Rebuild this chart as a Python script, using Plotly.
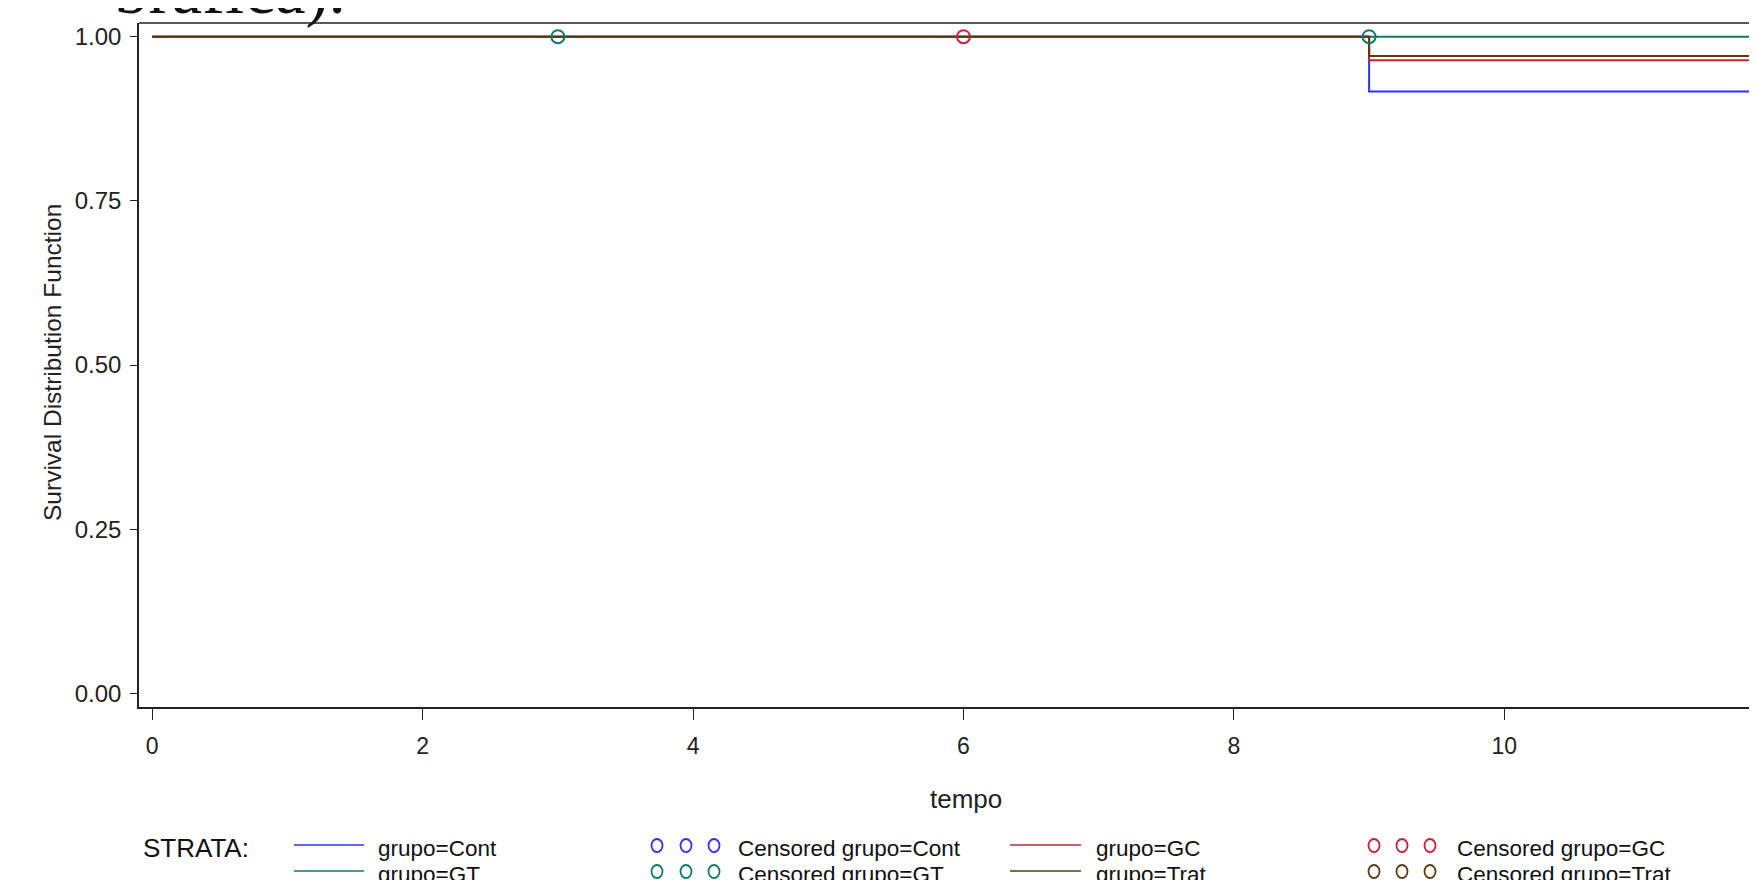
import plotly.graph_objects as go

# ---------------- data ----------------
strata = ["Cont", "GT", "GC", "Trat"]
colors = {"Cont": "#3030f5", "GT": "#0f7a6c", "GC": "#c8203a", "Trat": "#5a3b10"}

# Kaplan-Meier step functions (time, survival)
km_times = {
    "Cont": [0, 9, 12],
    "GT":   [0, 9, 12],
    "GC":   [0, 9, 12],
    "Trat": [0, 9, 12],
}
km_surv = {
    "Cont": [1.0, 0.9167, 0.9167],
    "GT":   [1.0, 1.0, 1.0],
    "GC":   [1.0, 0.9643, 0.9643],
    "Trat": [1.0, 0.9706, 0.9706],
}
# censored observations
cens_times = {"Cont": [], "GT": [3, 9], "GC": [6], "Trat": []}
cens_surv = {"Cont": [], "GT": [1.0, 1.0], "GC": [1.0], "Trat": []}

x_ticks = [0, 2, 4, 6, 8, 10]
y_ticks = [0.0, 0.25, 0.50, 0.75, 1.00]
y_ticklabels = ["0.00", "0.25", "0.50", "0.75", "1.00"]

# ---------------- layout helpers ----------------
OFF = 8                      # page body margin
W, H = 1757 - OFF, 880 - OFF
L, T, B, R = 131, 15, 173, 0
PW, PH = W - L - R, H - T - B
FONT = "Liberation Sans, Arial, sans-serif"
AXC = "#222222"


def px(x):   # page pixel -> paper x
    return (x - OFF - L) / PW


def py(y):   # page pixel -> paper y
    return (H - B - (y - OFF)) / PH


fig = go.Figure()

# curves (Trat drawn last so it sits on top at S=1)
for s in ["Cont", "GT", "GC", "Trat"]:
    fig.add_trace(go.Scatter(
        x=km_times[s], y=km_surv[s], mode="lines", line_shape="hv",
        line=dict(color=colors[s], width=2), showlegend=False, hoverinfo="skip"))
for s in ["Cont", "GC", "Trat", "GT"]:
    if cens_times[s]:
        fig.add_trace(go.Scatter(
            x=cens_times[s], y=cens_surv[s], mode="markers",
            marker=dict(symbol="circle-open", size=13, color=colors[s],
                        line=dict(width=2, color=colors[s])),
            showlegend=False, hoverinfo="skip", cliponaxis=False))

shapes = []
annotations = []

# top frame line
shapes.append(dict(type="line", xref="paper", yref="paper", x0=0, x1=1, y0=1, y1=1,
                   line=dict(color=AXC, width=1.6)))

# titles
annotations.append(dict(text="brafica).", xref="paper", yref="paper",
                        x=px(112), y=py(30), xanchor="left", yanchor="bottom",
                        showarrow=False,
                        font=dict(family="Liberation Serif, serif", size=69, color="#111111")))
annotations.append(dict(text="Survival Distribution Function", xref="paper", yref="paper",
                        x=px(52), y=py(363), xanchor="center", yanchor="middle",
                        textangle=-90, showarrow=False,
                        font=dict(family=FONT, size=24.5, color=AXC)))
annotations.append(dict(text="tempo", xref="paper", yref="paper",
                        x=px(966), y=py(799), xanchor="center", yanchor="middle",
                        showarrow=False, font=dict(family=FONT, size=26, color=AXC)))

# ---------------- legend (manual, SAS style) ----------------
annotations.append(dict(text="STRATA:", xref="paper", yref="paper",
                        x=px(141), y=py(848), xanchor="left", yanchor="middle",
                        showarrow=False, font=dict(family=FONT, size=26, color="#111111")))
rows = [["Cont", "GC"], ["GT", "Trat"]]
row_y = [848, 874]
line_cols = [(294, 364, 376), (1010, 1081, 1094)]
cens_cols = [([657, 686, 714], 736), ([1374, 1402, 1430], 1455)]
for r, names in enumerate(rows):
    yy = row_y[r]
    for c, s in enumerate(names):
        x0, x1, xl = line_cols[c]
        shapes.append(dict(type="line", xref="paper", yref="paper",
                           x0=px(x0), x1=px(x1), y0=py(yy - 3), y1=py(yy - 3),
                           line=dict(color=colors[s], width=1.6)))
        annotations.append(dict(text=f"grupo={s}", xref="paper", yref="paper",
                                x=px(xl), y=py(yy), xanchor="left", yanchor="middle",
                                showarrow=False, font=dict(family=FONT, size=22.5, color="#111111")))
        mxs, xl2 = cens_cols[c]
        for mx in mxs:
            shapes.append(dict(type="circle", xref="paper", yref="paper",
                               x0=px(mx - 5.5), x1=px(mx + 5.5), y0=py(yy - 9), y1=py(yy + 4),
                               line=dict(color=colors[s], width=1.8)))
        annotations.append(dict(text=f"Censored grupo={s}", xref="paper", yref="paper",
                                x=px(xl2), y=py(yy), xanchor="left", yanchor="middle",
                                showarrow=False, font=dict(family=FONT, size=22.5, color="#111111")))

fig.update_layout(
    width=W, height=H,
    margin=dict(l=L, r=R, t=T, b=B, pad=0),
    paper_bgcolor="white", plot_bgcolor="white",
    showlegend=False,
    shapes=shapes, annotations=annotations,
    xaxis=dict(range=[-0.098, 11.869], tickvals=x_ticks, ticktext=[str(v) for v in x_ticks],
               showgrid=False, zeroline=False, showline=True, linecolor=AXC, linewidth=1.6,
               ticks="outside", ticklen=11, tickwidth=1.4, tickcolor=AXC,
               ticklabelstandoff=7,
               tickfont=dict(family=FONT, size=23, color=AXC)),
    yaxis=dict(range=[-0.0209, 1.0209], tickvals=y_ticks, ticktext=y_ticklabels,
               showgrid=False, zeroline=False, showline=True, linecolor=AXC, linewidth=1.6,
               ticks="outside", ticklen=7, tickwidth=1.4, tickcolor=AXC,
               ticklabelstandoff=4,
               tickfont=dict(family=FONT, size=24, color=AXC)),
)

fig.write_html("out.html")
